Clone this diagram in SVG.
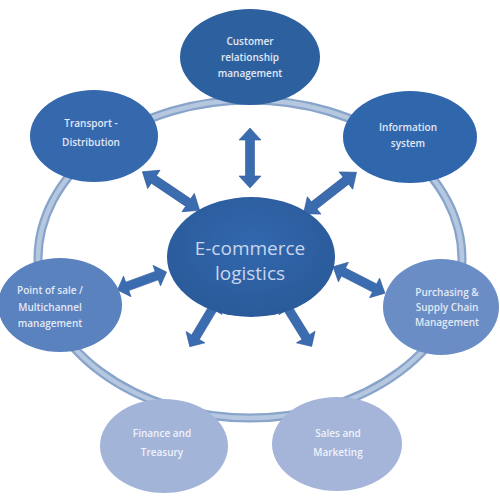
<svg xmlns="http://www.w3.org/2000/svg" width="500" height="500" viewBox="0 0 500 500">
<defs>
<style>
.t{font-family:"Open Sans","Liberation Sans",sans-serif;font-weight:600;font-size:10px;fill:#e2e9f6;text-anchor:middle}
.c{font-family:"Open Sans","Liberation Sans",sans-serif;font-size:19px;fill:#c9d6ec;text-anchor:middle}
.arr{fill:#3b6cb0;stroke:#2f5b98;stroke-width:0.6}
</style>
<radialGradient id="gDark" cx="0.5" cy="0.4" r="0.6">
<stop offset="0" stop-color="#3268ae"/><stop offset="1" stop-color="#2a5a99"/>
</radialGradient>
<path id="a" d="M-30,0 L-18,-11 L-18,-4.5 L18,-4.5 L18,-11 L30,0 L18,11 L18,4.5 L-18,4.5 L-18,11 Z"/>
</defs>
<rect width="500" height="500" fill="#ffffff"/>
<g id="ring">
<ellipse cx="250" cy="259" rx="212" ry="159" fill="none" stroke="#88a4ca" stroke-width="9"/>
<ellipse cx="250" cy="259" rx="212" ry="159" fill="none" stroke="#b5c8e0" stroke-width="4.5"/>
</g>
<g id="connectors">
<use href="#a" class="arr" transform="translate(250,158) rotate(90)"/>
<use href="#a" class="arr" transform="translate(171,191) rotate(34) scale(1.15,1)"/>
<use href="#a" class="arr" transform="translate(330,193) rotate(142) scale(1.12,1)"/>
<use href="#a" class="arr" transform="translate(142,281) rotate(-20) scale(0.87,1)"/>
<use href="#a" class="arr" transform="translate(359,280) rotate(27) scale(0.97,1)"/>
<use href="#a" class="arr" transform="translate(204,323) rotate(-59) scale(0.92,1)"/>
<use href="#a" class="arr" transform="translate(297,323) rotate(58) scale(0.92,1)"/>
</g>
<g id="crm">
<ellipse cx="250" cy="57" rx="70" ry="48" fill="#2d609f"/>
<text class="t" x="250" y="45">Customer</text>
<text class="t" x="250" y="61">relationship</text>
<text class="t" x="250" y="77">management</text>
</g>
<g id="transport">
<ellipse cx="94" cy="136" rx="64" ry="46" fill="#3568ad"/>
<text class="t" x="91" y="127">Transport -</text>
<text class="t" x="91" y="146">Distribution</text>
</g>
<g id="information">
<ellipse cx="410" cy="137" rx="67" ry="46" fill="#3066ac"/>
<text class="t" x="408" y="131">Information</text>
<text class="t" x="408" y="147">system</text>
</g>
<g id="center">
<ellipse cx="251" cy="257" rx="84" ry="60" fill="url(#gDark)"/>
<text class="c" x="250" y="255">E-commerce</text>
<text class="c" x="250" y="280">logistics</text>
</g>
<g id="pos">
<ellipse cx="60" cy="305" rx="62" ry="47" fill="#5a82bf"/>
<text class="t" x="50" y="294">Point of sale /</text>
<text class="t" x="50" y="311">Multichannel</text>
<text class="t" x="50" y="327">management</text>
</g>
<g id="purchasing">
<ellipse cx="441" cy="307" rx="58" ry="48" fill="#6a8dc5"/>
<text class="t" x="447" y="296">Purchasing &amp;</text>
<text class="t" x="447" y="311">Supply Chain</text>
<text class="t" x="447" y="326">Management</text>
</g>
<g id="finance">
<ellipse cx="164" cy="446" rx="64" ry="47" fill="#a3b4d9"/>
<text class="t" x="162" y="437" style="fill:#eef2fa">Finance and</text>
<text class="t" x="162" y="456" style="fill:#eef2fa">Treasury</text>
</g>
<g id="sales">
<ellipse cx="337" cy="444" rx="65" ry="47" fill="#a5b5d9"/>
<text class="t" x="338" y="437" style="fill:#eef2fa">Sales and</text>
<text class="t" x="338" y="456" style="fill:#eef2fa">Marketing</text>
</g>
</svg>
